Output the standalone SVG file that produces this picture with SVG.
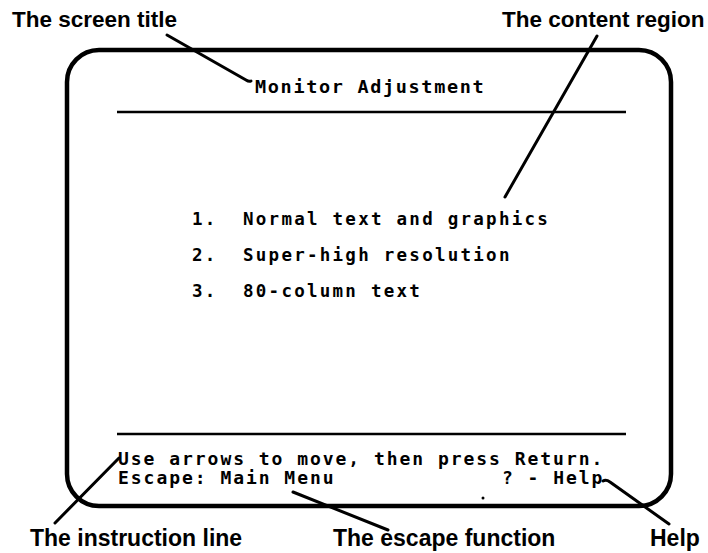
<svg xmlns="http://www.w3.org/2000/svg" width="708" height="553" viewBox="0 0 708 553">
  <style>
    .label { font-family: "Liberation Sans", Arial, sans-serif; font-weight: bold; fill: #000; }
    .screen { font-family: "DejaVu Sans Mono", "Liberation Mono", monospace; font-weight: bold; fill: #000; }
    .title { font-size: 18.5px; letter-spacing: 1.66px; }
    .item { font-size: 17.5px; letter-spacing: 2.26px; }
    .status { font-size: 18px; letter-spacing: 1.96px; }
    .rule { stroke: #000; stroke-width: 2.5; fill: none; }
    .leader { stroke: #000; stroke-width: 3; fill: none; stroke-linecap: round; stroke-linejoin: round; }
  </style>
  <rect width="708" height="553" fill="#fff"/>

  <!-- monitor screen frame -->
  <g id="screen-frame">
    <rect x="67" y="50" width="604" height="456" rx="32" ry="32" fill="none" stroke="#000" stroke-width="4.5"/>
  </g>

  <!-- title bar -->
  <g id="screen-title">
    <text class="screen title" x="255" y="93">Monitor Adjustment</text>
    <line class="rule" x1="117" y1="112" x2="626" y2="112"/>
  </g>

  <!-- menu content -->
  <g id="content-region">
    <text class="screen item" x="192" y="225">1.</text>
    <text class="screen item" x="243" y="225">Normal text and graphics</text>
    <text class="screen item" x="192" y="261">2.</text>
    <text class="screen item" x="243" y="261">Super-high resolution</text>
    <text class="screen item" x="192" y="297">3.</text>
    <text class="screen item" x="243" y="297">80-column text</text>
  </g>

  <!-- status area -->
  <g id="status-area">
    <line class="rule" x1="117" y1="434" x2="626" y2="434"/>
    <text id="instruction-line" class="screen status" x="118" y="465">Use arrows to move, then press Return.</text>
    <text id="escape-function" class="screen status" x="118" y="484">Escape: Main Menu</text>
    <text id="help" class="screen status" x="502" y="484">? - Help</text>
    <circle cx="483" cy="498" r="1.5" fill="#000"/>
  </g>

  <!-- callout labels -->
  <g id="label-screen-title"><text class="label" x="12" y="27" font-size="22.5">The screen title</text></g>
  <g id="label-content-region"><text class="label" x="502" y="27" font-size="22.5">The content region</text></g>
  <g id="label-instruction-line"><text class="label" x="30" y="546" font-size="23">The instruction line</text></g>
  <g id="label-escape-function"><text class="label" x="333" y="546" font-size="23">The escape function</text></g>
  <g id="label-help"><text class="label" x="650" y="546" font-size="23">Help</text></g>

  <!-- leader lines -->
  <g id="connectors">
    <path class="leader" d="M167,35 L246,80 Q249,82 251,81"/>
    <path class="leader" d="M597,36 L505,197"/>
    <path class="leader" d="M119,458 L55,523"/>
    <path class="leader" d="M293,492 L388,530"/>
    <path class="leader" d="M603,481 Q606,479 610,482 L669,524"/>
  </g>
</svg>
